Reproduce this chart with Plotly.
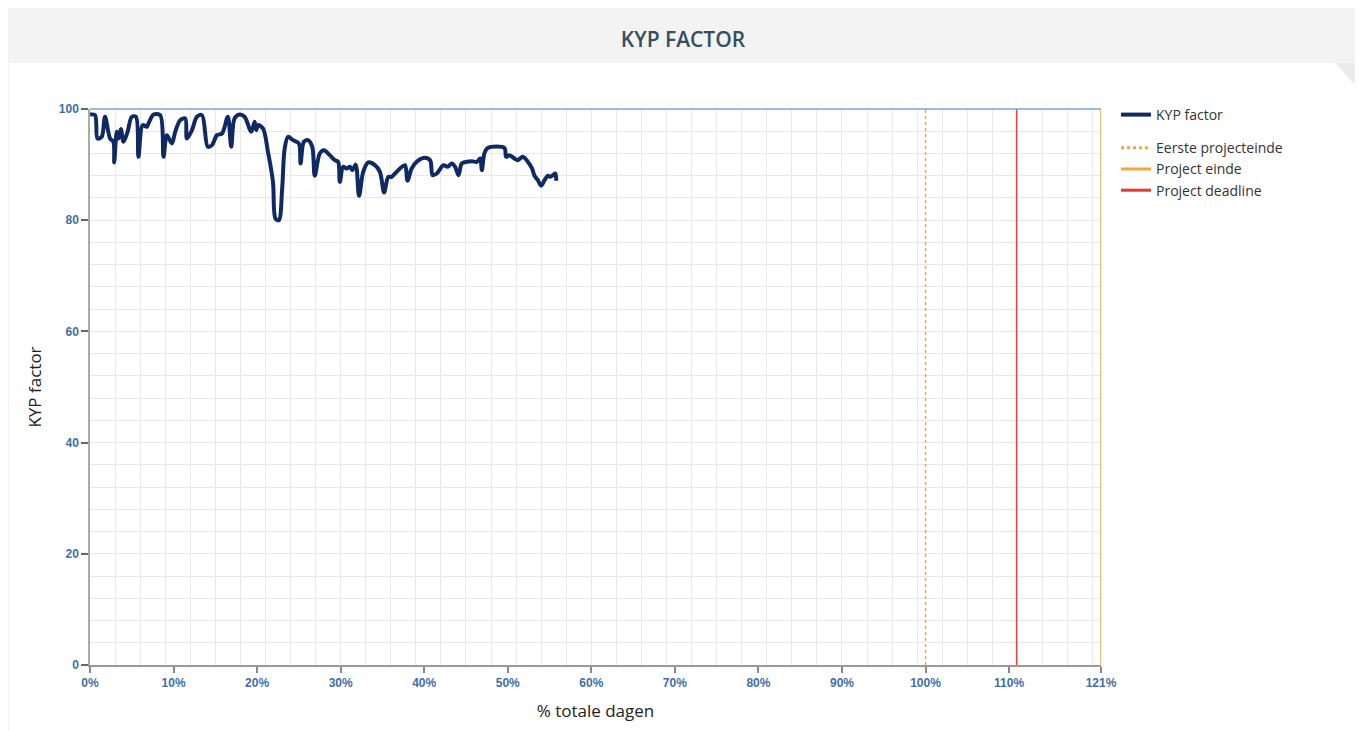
import plotly.graph_objects as go

# ---- data ----
pct_days = [0.0, 0.6, 0.9, 1.4, 1.8, 2.4, 2.8, 2.9, 3.2, 3.4, 3.7, 4.0, 4.5, 5.0, 5.5, 5.8,
            6.3, 6.8, 7.0, 7.6, 8.4, 8.8, 9.2, 9.8, 10.2, 10.8, 11.4, 11.6, 12.2, 12.8, 13.4,
            14.1, 14.6, 15.2, 15.8, 16.5, 16.9, 17.3, 17.9, 18.5, 19.3, 19.7, 19.9, 20.1, 20.7,
            21.3, 21.9, 22.2, 22.6, 23.0, 23.3, 23.7, 24.3, 25.0, 25.2, 25.6, 26.1, 26.6, 26.9,
            27.5, 28.0, 28.7, 29.3, 29.7, 29.9, 30.3, 30.7, 31.1, 31.4, 31.8, 32.2, 32.7, 33.3,
            34.1, 34.7, 35.2, 35.7, 36.1, 36.5, 37.1, 37.7, 38.0, 38.5, 39.1, 39.9, 40.7, 41.0,
            41.5, 42.3, 42.8, 43.3, 43.7, 44.1, 44.5, 45.1, 45.7, 46.3, 46.7, 46.9, 47.2, 47.6,
            49.6, 49.8, 50.2, 50.8, 51.2, 51.8, 52.4, 52.9, 53.2, 53.6, 54.0, 54.4, 54.8, 55.1,
            55.4, 55.7, 55.8]
kyp_factor = [99.0, 98.9, 94.7, 95.0, 98.6, 94.7, 94.1, 90.4, 95.9, 94.7, 96.4, 94.1, 95.9, 98.6,
              98.6, 91.4, 97.1, 96.8, 97.4, 99.0, 98.9, 91.4, 95.3, 93.8, 95.9, 98.0, 98.3, 94.7,
              96.2, 98.6, 98.9, 93.2, 93.5, 95.3, 95.6, 98.6, 93.2, 98.3, 99.0, 98.6, 95.9, 97.7,
              96.2, 97.1, 96.5, 92.3, 86.9, 80.3, 80.0, 85.7, 92.9, 95.0, 94.4, 93.8, 90.2, 94.1,
              94.4, 93.2, 88.0, 92.0, 92.6, 91.7, 90.8, 90.5, 86.9, 89.6, 89.3, 89.6, 89.0, 90.0,
              84.4, 88.7, 90.4, 89.9, 88.7, 85.0, 87.8, 87.8, 88.4, 89.3, 89.9, 87.1, 89.3, 90.5,
              91.2, 90.8, 88.1, 88.4, 89.9, 89.6, 90.2, 89.6, 88.1, 90.2, 90.5, 90.6, 90.5, 91.1,
              89.0, 92.0, 93.0, 93.0, 91.4, 91.7, 91.1, 90.8, 91.4, 90.5, 89.3, 88.0, 87.2, 86.2,
              87.2, 88.0, 87.8, 88.1, 88.4, 87.1]

first_end_pct = 100.0
project_end_pct = 121.0
deadline_pct = 110.9

x_tickvals = [0, 10, 20, 30, 40, 50, 60, 70, 80, 90, 100, 110, 121]
x_ticktext = ["0%", "10%", "20%", "30%", "40%", "50%", "60%", "70%", "80%", "90%", "100%", "110%", "121%"]
y_tickvals = [0, 20, 40, 60, 80, 100]

# ---- styles ----
NAVY = "#0f2a63"
ORANGE = "#f7a539"
RED = "#e23b2e"
TICK_COLOR = "#3f6ea6"

fig = go.Figure()

fig.add_trace(go.Scatter(
    x=pct_days, y=kyp_factor, mode="lines", name="KYP factor",
    line=dict(color=NAVY, width=4, shape="spline", smoothing=0.9),
    legendgroup="a", showlegend=True, hoverinfo="skip"))

# vertical reference lines (thin, in plot)
fig.add_trace(go.Scatter(x=[first_end_pct, first_end_pct], y=[0, 100], mode="lines",
                         line=dict(color="#f5a02e", width=1.4, dash="3px,3px"),
                         showlegend=False, hoverinfo="skip"))
fig.add_trace(go.Scatter(x=[deadline_pct, deadline_pct], y=[0, 100], mode="lines",
                         line=dict(color="#e0463b", width=1.4),
                         showlegend=False, hoverinfo="skip"))
fig.add_trace(go.Scatter(x=[project_end_pct, project_end_pct], y=[0, 100], mode="lines",
                         line=dict(color=ORANGE, width=1.5),
                         showlegend=False, hoverinfo="skip", cliponaxis=False))

# legend entries (thicker symbols)
fig.add_trace(go.Scatter(x=[None], y=[None], mode="lines", name="Eerste projecteinde",
                         line=dict(color=ORANGE, width=3, dash="3px,3px"), legendgroup="b"))
fig.add_trace(go.Scatter(x=[None], y=[None], mode="lines", name="Project einde",
                         line=dict(color=ORANGE, width=3), legendgroup="b"))
fig.add_trace(go.Scatter(x=[None], y=[None], mode="lines", name="Project deadline",
                         line=dict(color=RED, width=3), legendgroup="b"))

# page has an 8px body margin; figure coordinates are page coordinates minus 8
OFF = 8
W, H = 1363 - OFF, 731 - OFF
L, R, T, B = 90 - OFF, 1363 - 1101, 109 - OFF, 731 - 665
pw, ph = W - L - R, H - T - B

def px_x(px):
    return (px - OFF - L) / pw

def px_y(py):
    return (H - B - (py - OFF)) / ph

shapes = [
    # header band
    dict(type="rect", xref="paper", yref="paper", x0=px_x(8), x1=px_x(1363), y0=px_y(63), y1=px_y(8),
         fillcolor="#f3f3f3", line=dict(width=0), layer="below"),
    # corner fold
    dict(type="path", xref="paper", yref="paper",
         path="M {:.5f},{:.5f} L {:.5f},{:.5f} L {:.5f},{:.5f} L {:.5f},{:.5f} Z".format(
             px_x(1335), px_y(63), px_x(1363), px_y(63), px_x(1363), px_y(86), px_x(1356), px_y(86)),
         fillcolor="#ececec", line=dict(width=0), layer="below"),
    # panel border
    dict(type="line", xref="paper", yref="paper", x0=px_x(8.5), x1=px_x(8.5), y0=px_y(731), y1=px_y(63),
         line=dict(color="#efefef", width=1), layer="below"),
    # top blue line at 100
    dict(type="line", xref="paper", yref="paper", x0=0, x1=1, y0=1, y1=1,
         line=dict(color="#7ea3cf", width=1.6), layer="above"),
]

fig.update_layout(
    width=W, height=H,
    margin=dict(l=L, r=R, t=T, b=B, autoexpand=False),
    paper_bgcolor="white", plot_bgcolor="white",
    shapes=shapes,
    title=dict(text="KYP FACTOR", x=(683 - OFF) / W, xref="container",
               y=1 - (40 - OFF) / H, yref="container", xanchor="center", yanchor="middle",
               font=dict(family="Open Sans, sans-serif", size=21, color="#34505f", weight=600)),
    font=dict(family="Open Sans, sans-serif", color="#222"),
    legend=dict(x=px_x(1116), y=px_y(99), xanchor="left", yanchor="top",
                font=dict(family="Open Sans, sans-serif", size=14, color="#333"),
                tracegroupgap=12, traceorder="grouped", bgcolor="rgba(0,0,0,0)"),
    showlegend=True,
)

fig.update_xaxes(
    range=[0, 121], tickmode="array", tickvals=x_tickvals, ticktext=x_ticktext,
    showgrid=False, zeroline=False,
    showline=True, linecolor="#999999", linewidth=1.5,
    ticks="outside", ticklen=6, tickcolor="#888888", tickwidth=1.5,
    tickfont=dict(family="Liberation Sans, Arial, sans-serif", size=12, color=TICK_COLOR, weight="bold"),
    minor=dict(dtick=3, tick0=0, showgrid=True, gridcolor="#e8e8e8", gridwidth=1, ticks=""),
    title=dict(text="% totale dagen", standoff=16,
               font=dict(family="Open Sans, sans-serif", size=17, color="#222")),
)
fig.update_yaxes(
    range=[0, 100], tickmode="array", tickvals=y_tickvals,
    showgrid=True, gridcolor="#e8e8e8", gridwidth=1, zeroline=False,
    showline=True, linecolor="#aaaaaa", linewidth=1.5,
    ticks="outside", ticklen=7, tickcolor="#666666", tickwidth=1.5,
    tickfont=dict(family="Liberation Sans, Arial, sans-serif", size=12, color=TICK_COLOR, weight="bold"),
    minor=dict(dtick=4, tick0=0, showgrid=True, gridcolor="#e8e8e8", gridwidth=1, ticks=""),
    title=dict(text="KYP factor", standoff=13,
               font=dict(family="Open Sans, sans-serif", size=17, color="#222")),
)

fig.write_html("out.html")
